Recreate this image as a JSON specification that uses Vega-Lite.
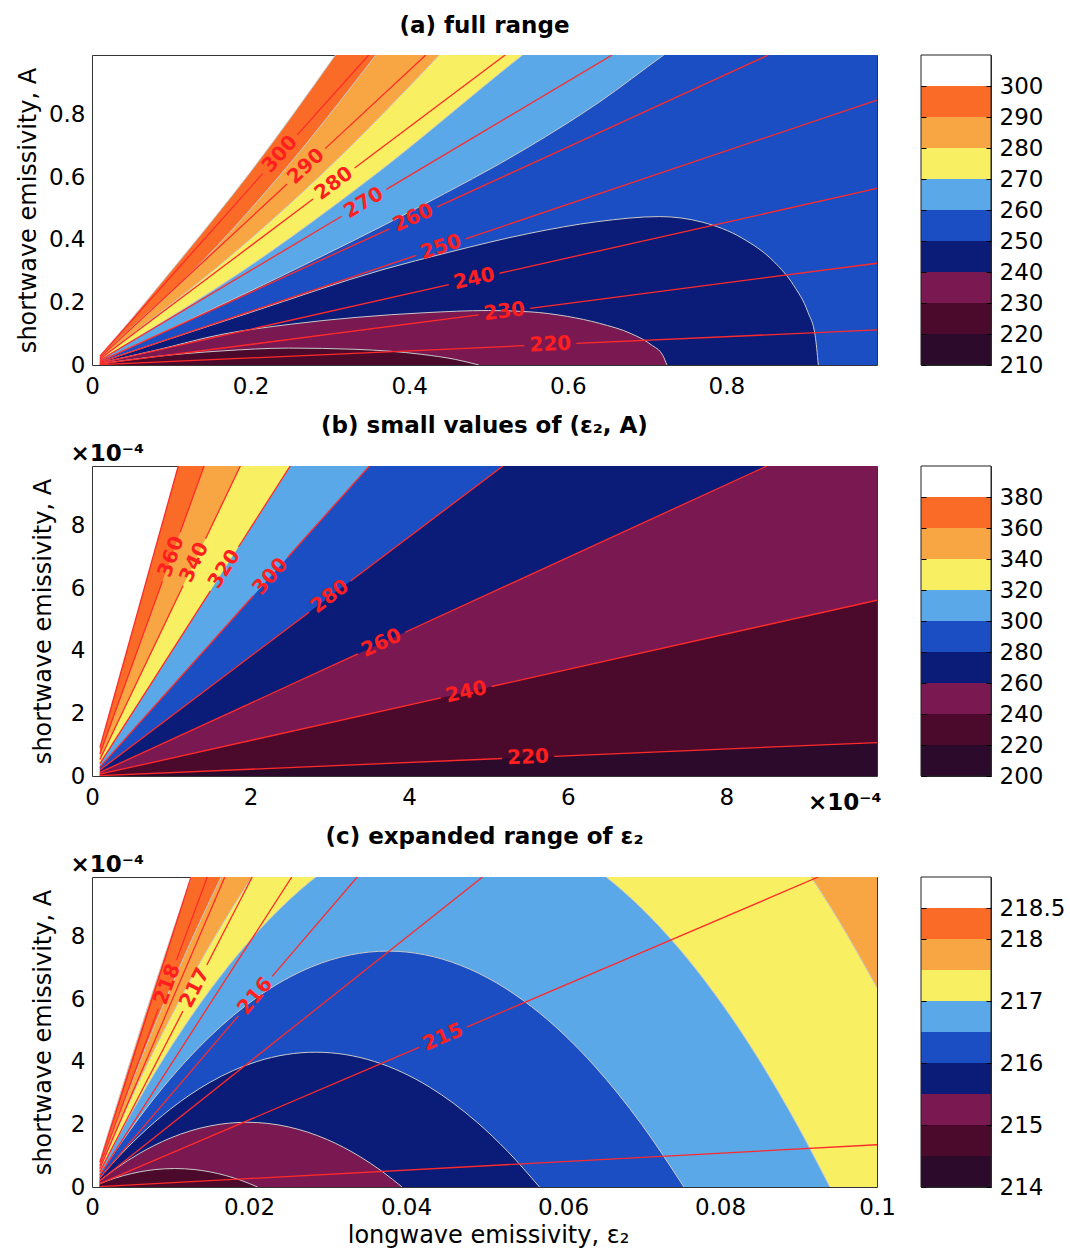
{
  "$schema": "https://vega.github.io/schema/vega-lite/v6.json",
  "background": "white",
  "padding": {"left": 15, "top": 14, "right": 5, "bottom": 5},
  "bounds": "flush",
  "columns": 2,
  "spacing": {"row": 101, "column": 44},
  "config": {
    "font": "DejaVu Sans",
    "view": {"stroke": "#333333", "strokeWidth": 1},
    "axis": {"ticks": false, "domain": false, "grid": false, "labelFontSize": 23, "labelColor": "#000000", "labelFont": "DejaVu Sans", "titleFont": "DejaVu Sans", "titleFontSize": 24, "titleFontWeight": "normal", "titleColor": "#000000", "labelFlush": false, "labelOverlap": false},
    "title": {"font": "DejaVu Sans", "fontSize": 23, "fontWeight": "bold", "color": "#000000"}
  },
  "datasets": {
    "fillA": [
      {"level":300,"band":8,"x":0.01,"y":0.029},{"level":300,"band":8,"x":0.05,"y":0.148},{"level":300,"band":8,"x":0.101,"y":0.304},{"level":300,"band":8,"x":0.2,"y":0.617},{"level":300,"band":8,"x":0.307,"y":0.99},{"level":300,"band":8,"x":0.4,"y":1.33},{"level":300,"band":8,"x":0.99,"y":3.5},
      {"level":290,"band":7,"x":0.01,"y":0.024},{"level":290,"band":7,"x":0.05,"y":0.12},{"level":290,"band":7,"x":0.1286,"y":0.304},{"level":290,"band":7,"x":0.235,"y":0.6},{"level":290,"band":7,"x":0.358,"y":0.99},{"level":290,"band":7,"x":0.45,"y":1.3},{"level":290,"band":7,"x":0.99,"y":3.2},
      {"level":280,"band":6,"x":0.01,"y":0.019},{"level":280,"band":6,"x":0.05,"y":0.097},{"level":280,"band":6,"x":0.154,"y":0.304},{"level":280,"band":6,"x":0.286,"y":0.6},{"level":280,"band":6,"x":0.438,"y":0.99},{"level":280,"band":6,"x":0.55,"y":1.3},{"level":280,"band":6,"x":0.99,"y":2.6},
      {"level":270,"band":5,"x":0.01,"y":0.015},{"level":270,"band":5,"x":0.05,"y":0.077},{"level":270,"band":5,"x":0.192,"y":0.304},{"level":270,"band":5,"x":0.353,"y":0.6},{"level":270,"band":5,"x":0.543,"y":0.99},{"level":270,"band":5,"x":0.65,"y":1.2},{"level":270,"band":5,"x":0.99,"y":2.0},
      {"level":260,"band":4,"x":0.01,"y":0.0115},{"level":260,"band":4,"x":0.05,"y":0.058},{"level":260,"band":4,"x":0.1,"y":0.117},{"level":260,"band":4,"x":0.255,"y":0.304},{"level":260,"band":4,"x":0.409,"y":0.5},{"level":260,"band":4,"x":0.551,"y":0.697},{"level":260,"band":4,"x":0.64,"y":0.84},{"level":260,"band":4,"x":0.721,"y":0.99},{"level":260,"band":4,"x":0.8,"y":1.13},{"level":260,"band":4,"x":0.99,"y":1.5},
      {"level":250,"band":3,"x":0.01,"y":0.0085},{"level":250,"band":3,"x":0.05,"y":0.043},{"level":250,"band":3,"x":0.1,"y":0.085},{"level":250,"band":3,"x":0.2,"y":0.168},{"level":250,"band":3,"x":0.366,"y":0.304},{"level":250,"band":3,"x":0.45,"y":0.36},{"level":250,"band":3,"x":0.551,"y":0.42},{"level":250,"band":3,"x":0.638,"y":0.458},{"level":250,"band":3,"x":0.716,"y":0.474},{"level":250,"band":3,"x":0.77,"y":0.456},{"level":250,"band":3,"x":0.82,"y":0.405},{"level":250,"band":3,"x":0.86,"y":0.33},{"level":250,"band":3,"x":0.885,"y":0.254},{"level":250,"band":3,"x":0.903,"y":0.168},{"level":250,"band":3,"x":0.912,"y":0.094},{"level":250,"band":3,"x":0.916,"y":0},
      {"level":240,"band":2,"x":0.01,"y":0.006},{"level":240,"band":2,"x":0.04,"y":0.024},{"level":240,"band":2,"x":0.08,"y":0.047},{"level":240,"band":2,"x":0.164,"y":0.098},{"level":240,"band":2,"x":0.25,"y":0.13},{"level":240,"band":2,"x":0.333,"y":0.152},{"level":240,"band":2,"x":0.42,"y":0.167},{"level":240,"band":2,"x":0.5,"y":0.174},{"level":240,"band":2,"x":0.551,"y":0.17},{"level":240,"band":2,"x":0.6,"y":0.155},{"level":240,"band":2,"x":0.64,"y":0.133},{"level":240,"band":2,"x":0.68,"y":0.1},{"level":240,"band":2,"x":0.705,"y":0.065},{"level":240,"band":2,"x":0.72,"y":0.03},{"level":240,"band":2,"x":0.725,"y":0},
      {"level":230,"band":1,"x":0.01,"y":0.0035},{"level":230,"band":1,"x":0.04,"y":0.014},{"level":230,"band":1,"x":0.08,"y":0.027},{"level":230,"band":1,"x":0.164,"y":0.045},{"level":230,"band":1,"x":0.248,"y":0.054},{"level":230,"band":1,"x":0.333,"y":0.05},{"level":230,"band":1,"x":0.416,"y":0.034},{"level":230,"band":1,"x":0.458,"y":0.018},{"level":230,"band":1,"x":0.488,"y":0}
    ],
    "linesA": [
      {"level":300,"seg":0,"x":0.01,"y":0.0284},{"level":300,"seg":0,"x":0.2152,"y":0.611},{"level":300,"seg":1,"x":0.2588,"y":0.735},{"level":300,"seg":1,"x":0.349,"y":0.99},
      {"level":290,"seg":0,"x":0.01,"y":0.0235},{"level":290,"seg":0,"x":0.246,"y":0.578},{"level":290,"seg":1,"x":0.294,"y":0.691},{"level":290,"seg":1,"x":0.421,"y":0.99},
      {"level":280,"seg":0,"x":0.01,"y":0.019},{"level":280,"seg":0,"x":0.2788,"y":0.53},{"level":280,"seg":1,"x":0.3312,"y":0.629},{"level":280,"seg":1,"x":0.521,"y":0.99},
      {"level":270,"seg":0,"x":0.01,"y":0.0151},{"level":270,"seg":0,"x":0.3148,"y":0.475},{"level":270,"seg":1,"x":0.3712,"y":0.561},{"level":270,"seg":1,"x":0.656,"y":0.99},
      {"level":260,"seg":0,"x":0.01,"y":0.0116},{"level":260,"seg":0,"x":0.3752,"y":0.435},{"level":260,"seg":1,"x":0.4348,"y":0.504},{"level":260,"seg":1,"x":0.853,"y":0.99},
      {"level":250,"seg":0,"x":0.01,"y":0.0086},{"level":250,"seg":0,"x":0.4089,"y":0.35},{"level":250,"seg":1,"x":0.4711,"y":0.403},{"level":250,"seg":1,"x":0.99,"y":0.846},
      {"level":240,"seg":0,"x":0.01,"y":0.0057},{"level":240,"seg":0,"x":0.45,"y":0.2565},{"level":240,"seg":1,"x":0.514,"y":0.293},{"level":240,"seg":1,"x":0.99,"y":0.564},
      {"level":230,"seg":0,"x":0.01,"y":0.0033},{"level":230,"seg":0,"x":0.4875,"y":0.16},{"level":230,"seg":1,"x":0.5525,"y":0.181},{"level":230,"seg":1,"x":0.99,"y":0.325},
      {"level":220,"seg":0,"x":0.01,"y":0.0011},{"level":220,"seg":0,"x":0.5452,"y":0.0616},{"level":220,"seg":1,"x":0.6108,"y":0.069},{"level":220,"seg":1,"x":0.99,"y":0.112}
    ],
    "labA": [
      {"level":300,"x":0.237,"y":0.673},{"level":290,"x":0.27,"y":0.6345},{"level":280,"x":0.305,"y":0.5795},{"level":270,"x":0.343,"y":0.518},{"level":260,"x":0.405,"y":0.47},{"level":250,"x":0.44,"y":0.376},{"level":240,"x":0.482,"y":0.275},{"level":230,"x":0.52,"y":0.1706},{"level":220,"x":0.578,"y":0.0653}
    ],
    "fillB": [
      {"level":380,"band":8,"x":0.1,"y":0.91},{"level":380,"band":8,"x":9.9,"y":90.09},
      {"level":360,"band":7,"x":0.1,"y":0.7},{"level":360,"band":7,"x":9.9,"y":69.3},
      {"level":340,"band":6,"x":0.1,"y":0.529},{"level":340,"band":6,"x":9.9,"y":52.37},
      {"level":320,"band":5,"x":0.1,"y":0.396},{"level":320,"band":5,"x":9.9,"y":39.2},
      {"level":300,"band":4,"x":0.1,"y":0.283},{"level":300,"band":4,"x":9.9,"y":28.02},
      {"level":280,"band":3,"x":0.1,"y":0.191},{"level":280,"band":3,"x":9.9,"y":18.91},
      {"level":260,"band":2,"x":0.1,"y":0.116},{"level":260,"band":2,"x":9.9,"y":11.51},
      {"level":240,"band":1,"x":0.1,"y":0.057},{"level":240,"band":1,"x":9.9,"y":5.613},
      {"level":220,"band":0,"x":0.1,"y":0.011},{"level":220,"band":0,"x":9.9,"y":1.069}
    ],
    "linesB": [
      {"level":380,"seg":0,"x":0.1,"y":0.91},{"level":380,"seg":0,"x":1.088,"y":9.9},
      {"level":360,"seg":0,"x":0.1,"y":0.7},{"level":360,"seg":0,"x":0.888,"y":6.216},{"level":360,"seg":1,"x":1.112,"y":7.784},{"level":360,"seg":1,"x":1.414,"y":9.9},
      {"level":340,"seg":0,"x":0.1,"y":0.529},{"level":340,"seg":0,"x":1.148,"y":6.073},{"level":340,"seg":1,"x":1.432,"y":7.575},{"level":340,"seg":1,"x":1.871,"y":9.9},
      {"level":320,"seg":0,"x":0.1,"y":0.396},{"level":320,"seg":0,"x":1.493,"y":5.912},{"level":320,"seg":1,"x":1.847,"y":7.314},{"level":320,"seg":1,"x":2.5,"y":9.9},
      {"level":300,"seg":0,"x":0.1,"y":0.283},{"level":300,"seg":0,"x":2.031,"y":5.748},{"level":300,"seg":1,"x":2.469,"y":6.987},{"level":300,"seg":1,"x":3.498,"y":9.9},
      {"level":280,"seg":0,"x":0.1,"y":0.191},{"level":280,"seg":0,"x":2.738,"y":5.23},{"level":280,"seg":1,"x":3.262,"y":6.23},{"level":280,"seg":1,"x":5.183,"y":9.9},
      {"level":260,"seg":0,"x":0.1,"y":0.116},{"level":260,"seg":0,"x":3.352,"y":3.898},{"level":260,"seg":1,"x":3.948,"y":4.591},{"level":260,"seg":1,"x":8.512,"y":9.9},
      {"level":240,"seg":0,"x":0.1,"y":0.057},{"level":240,"seg":0,"x":4.4,"y":2.495},{"level":240,"seg":1,"x":5.04,"y":2.858},{"level":240,"seg":1,"x":9.9,"y":5.613},
      {"level":220,"seg":0,"x":0.1,"y":0.011},{"level":220,"seg":0,"x":5.172,"y":0.5586},{"level":220,"seg":1,"x":5.828,"y":0.6294},{"level":220,"seg":1,"x":9.9,"y":1.069}
    ],
    "labB": [
      {"level":360,"x":1.0,"y":7.0},{"level":340,"x":1.29,"y":6.82},{"level":320,"x":1.67,"y":6.61},{"level":300,"x":2.25,"y":6.37},{"level":280,"x":3.0,"y":5.73},{"level":260,"x":3.65,"y":4.245},{"level":240,"x":4.72,"y":2.676},{"level":220,"x":5.5,"y":0.594}
    ],
    "fillC": [
      {"level":218.5,"band":8,"x":0.001,"y":0.843},{"level":218.5,"band":8,"x":0.003,"y":2.496},{"level":218.5,"band":8,"x":0.006,"y":4.897},{"level":218.5,"band":8,"x":0.009,"y":7.203},{"level":218.5,"band":8,"x":0.012,"y":9.413},{"level":218.5,"band":8,"x":0.015,"y":11.53},{"level":218.5,"band":8,"x":0.03,"y":20.67},{"level":218.5,"band":8,"x":0.1,"y":31.8},
      {"level":218,"band":7,"x":0.001,"y":0.684},{"level":218,"band":7,"x":0.003,"y":2.019},{"level":218,"band":7,"x":0.006,"y":3.943},{"level":218,"band":7,"x":0.01,"y":6.36},{"level":218,"band":7,"x":0.014,"y":8.607},{"level":218,"band":7,"x":0.018,"y":10.68},{"level":218,"band":7,"x":0.03,"y":15.9},{"level":218,"band":7,"x":0.065,"y":22.4},{"level":218,"band":7,"x":0.1,"y":15.9},
      {"level":217.5,"band":6,"x":0.001,"y":0.588},{"level":217.5,"band":6,"x":0.003,"y":1.733},{"level":217.5,"band":6,"x":0.006,"y":3.371},{"level":217.5,"band":6,"x":0.01,"y":5.406},{"level":217.5,"band":6,"x":0.015,"y":7.712},{"level":217.5,"band":6,"x":0.02,"y":9.752},{"level":217.5,"band":6,"x":0.025,"y":11.53},{"level":217.5,"band":6,"x":0.056,"y":16.62},{"level":217.5,"band":6,"x":0.085,"y":12.16},{"level":217.5,"band":6,"x":0.09,"y":10.49},{"level":217.5,"band":6,"x":0.095,"y":8.56},{"level":217.5,"band":6,"x":0.1,"y":6.36},
      {"level":217,"band":5,"x":0.001,"y":0.493},{"level":217,"band":5,"x":0.003,"y":1.447},{"level":217,"band":5,"x":0.006,"y":2.798},{"level":217,"band":5,"x":0.01,"y":4.452},{"level":217,"band":5,"x":0.015,"y":6.281},{"level":217,"band":5,"x":0.02,"y":7.844},{"level":217,"band":5,"x":0.025,"y":9.143},{"level":217,"band":5,"x":0.03,"y":10.18},{"level":217,"band":5,"x":0.047,"y":11.71},{"level":217,"band":5,"x":0.064,"y":10.18},{"level":217,"band":5,"x":0.07,"y":8.904},{"level":217,"band":5,"x":0.078,"y":6.614},{"level":217,"band":5,"x":0.085,"y":4.055},{"level":217,"band":5,"x":0.09,"y":1.908},{"level":217,"band":5,"x":0.094,"y":0},
      {"level":216.5,"band":4,"x":0.001,"y":0.394},{"level":216.5,"band":4,"x":0.003,"y":1.151},{"level":216.5,"band":4,"x":0.006,"y":2.207},{"level":216.5,"band":4,"x":0.01,"y":3.466},{"level":216.5,"band":4,"x":0.015,"y":4.802},{"level":216.5,"band":4,"x":0.021,"y":6.055},{"level":216.5,"band":4,"x":0.028,"y":7.034},{"level":216.5,"band":4,"x":0.0377,"y":7.533},{"level":216.5,"band":4,"x":0.047,"y":7.074},{"level":216.5,"band":4,"x":0.056,"y":5.758},{"level":216.5,"band":4,"x":0.064,"y":3.867},{"level":216.5,"band":4,"x":0.07,"y":2.003},{"level":216.5,"band":4,"x":0.0754,"y":0},
      {"level":216,"band":3,"x":0.001,"y":0.297},{"level":216,"band":3,"x":0.003,"y":0.859},{"level":216,"band":3,"x":0.006,"y":1.622},{"level":216,"band":3,"x":0.01,"y":2.491},{"level":216,"band":3,"x":0.015,"y":3.339},{"level":216,"band":3,"x":0.021,"y":4.007},{"level":216,"band":3,"x":0.0285,"y":4.305},{"level":216,"band":3,"x":0.036,"y":4.007},{"level":216,"band":3,"x":0.043,"y":3.191},{"level":216,"band":3,"x":0.049,"y":2.078},{"level":216,"band":3,"x":0.053,"y":1.124},{"level":216,"band":3,"x":0.057,"y":0},
      {"level":215.5,"band":2,"x":0.001,"y":0.204},{"level":215.5,"band":2,"x":0.003,"y":0.58},{"level":215.5,"band":2,"x":0.006,"y":1.065},{"level":215.5,"band":2,"x":0.01,"y":1.564},{"level":215.5,"band":2,"x":0.015,"y":1.948},{"level":215.5,"band":2,"x":0.0198,"y":2.067},{"level":215.5,"band":2,"x":0.025,"y":1.921},{"level":215.5,"band":2,"x":0.03,"y":1.511},{"level":215.5,"band":2,"x":0.034,"y":0.991},{"level":215.5,"band":2,"x":0.037,"y":0.49},{"level":215.5,"band":2,"x":0.0395,"y":0},
      {"level":215,"band":1,"x":0.001,"y":0.107},{"level":215,"band":1,"x":0.002,"y":0.203},{"level":215,"band":1,"x":0.004,"y":0.363},{"level":215,"band":1,"x":0.006,"y":0.48},{"level":215,"band":1,"x":0.008,"y":0.555},{"level":215,"band":1,"x":0.0105,"y":0.59},{"level":215,"band":1,"x":0.013,"y":0.558},{"level":215,"band":1,"x":0.015,"y":0.485},{"level":215,"band":1,"x":0.017,"y":0.369},{"level":215,"band":1,"x":0.019,"y":0.212},{"level":215,"band":1,"x":0.0211,"y":0}
    ],
    "linesC": [
      {"level":214.5,"seg":0,"x":0.001,"y":0.0135},{"level":214.5,"seg":0,"x":0.1,"y":1.35},
      {"level":215,"seg":0,"x":0.001,"y":0.107},{"level":215,"seg":0,"x":0.04166,"y":4.458},{"level":215,"seg":1,"x":0.04774,"y":5.108},{"level":215,"seg":1,"x":0.09252,"y":9.9},
      {"level":215.5,"seg":0,"x":0.001,"y":0.199},{"level":215.5,"seg":0,"x":0.04975,"y":9.9},
      {"level":216,"seg":0,"x":0.001,"y":0.293},{"level":216,"seg":0,"x":0.01865,"y":5.464},{"level":216,"seg":1,"x":0.02295,"y":6.724},{"level":216,"seg":1,"x":0.03379,"y":9.9},
      {"level":216.5,"seg":0,"x":0.001,"y":0.389},{"level":216.5,"seg":0,"x":0.02545,"y":9.9},
      {"level":217,"seg":0,"x":0.001,"y":0.485},{"level":217,"seg":0,"x":0.01158,"y":5.616},{"level":217,"seg":1,"x":0.01462,"y":7.091},{"level":217,"seg":1,"x":0.02041,"y":9.9},
      {"level":217.5,"seg":0,"x":0.001,"y":0.585},{"level":217.5,"seg":0,"x":0.01692,"y":9.9},
      {"level":218,"seg":0,"x":0.001,"y":0.674},{"level":218,"seg":0,"x":0.00845,"y":5.695},{"level":218,"seg":1,"x":0.01075,"y":7.246},{"level":218,"seg":1,"x":0.01469,"y":9.9},
      {"level":218.5,"seg":0,"x":0.001,"y":0.785},{"level":218.5,"seg":0,"x":0.01261,"y":9.9}
    ],
    "labC": [
      {"level":218,"x":0.0096,"y":6.47},{"level":217,"x":0.0131,"y":6.354},{"level":216,"x":0.0208,"y":6.094},{"level":215,"x":0.0447,"y":4.783}
    ],
    "barA": [
      {"band":0,"lo":210,"hi":220},{"band":1,"lo":220,"hi":230},{"band":2,"lo":230,"hi":240},{"band":3,"lo":240,"hi":250},{"band":4,"lo":250,"hi":260},{"band":5,"lo":260,"hi":270},{"band":6,"lo":270,"hi":280},{"band":7,"lo":280,"hi":290},{"band":8,"lo":290,"hi":300},{"band":9,"lo":300,"hi":310}
    ],
    "barB": [
      {"band":0,"lo":200,"hi":220},{"band":1,"lo":220,"hi":240},{"band":2,"lo":240,"hi":260},{"band":3,"lo":260,"hi":280},{"band":4,"lo":280,"hi":300},{"band":5,"lo":300,"hi":320},{"band":6,"lo":320,"hi":340},{"band":7,"lo":340,"hi":360},{"band":8,"lo":360,"hi":380},{"band":9,"lo":380,"hi":400}
    ],
    "barC": [
      {"band":0,"lo":214,"hi":214.5},{"band":1,"lo":214.5,"hi":215},{"band":2,"lo":215,"hi":215.5},{"band":3,"lo":215.5,"hi":216},{"band":4,"lo":216,"hi":216.5},{"band":5,"lo":216.5,"hi":217},{"band":6,"lo":217,"hi":217.5},{"band":7,"lo":217.5,"hi":218},{"band":8,"lo":218,"hi":218.5},{"band":9,"lo":218.5,"hi":219}
    ]
  },
  "concat": [
    {
      "width": 785,
      "height": 310,
      "title": {"text": "(a) full range", "anchor": "middle", "frame": "group", "offset": -1, "baseline": "alphabetic"},
      "encoding": {
        "x": {"field": "x", "type": "quantitative", "scale": {"domain": [0, 0.99], "nice": false, "zero": false}, "axis": {"values": [0, 0.2, 0.4, 0.6, 0.8], "format": "~g", "title": null, "labelPadding": 10}},
        "y": {"field": "y", "type": "quantitative", "stack": null, "scale": {"domain": [0, 0.99], "nice": false, "zero": false}, "axis": {"values": [0, 0.2, 0.4, 0.6, 0.8], "format": "~g", "labelPadding": 7, "title": "shortwave emissivity, A", "titleAngle": 270, "titleX": -57, "titleY": 155, "titleAlign": "center", "titleBaseline": "alphabetic"}}
      },
      "layer": [
        {
          "data": {"name": "fillA"},
          "mark": {"type": "area", "clip": true, "interpolate": "monotone"},
          "encoding": {
            "y2": {"datum": 0},
            "color": {"field": "band", "type": "ordinal", "scale": {"domain": [0,1,2,3,4,5,6,7,8,9], "range": ["#2c0a2c","#4b0a2c","#7a1852","#0b1c78","#1a4ec2","#5aa8e8","#f8ef62","#f8a643","#fa6b28","#ffffff"]}, "legend": null}
          }
        },
        {
          "data": {"name": "fillA"},
          "mark": {"type": "line", "clip": true, "interpolate": "monotone", "stroke": "#c9c9c9", "strokeWidth": 1},
          "encoding": {"detail": {"field": "level"}}
        },
        {
          "data": {"name": "linesA"},
          "mark": {"type": "line", "clip": true, "stroke": "#ff2a2a", "strokeWidth": 1.3},
          "encoding": {"detail": [{"field": "level"}, {"field": "seg"}]}
        },
        {
          "data": {"name": "labA"},
          "transform": [{"calculate": "-atan(datum.y / datum.x * 313.1 / 792.9) * 180 / PI", "as": "ang"}],
          "mark": {"type": "text", "color": "#ff1f1f", "fontSize": 20, "fontWeight": "bold", "font": "DejaVu Sans"},
          "encoding": {"text": {"field": "level", "type": "nominal"}, "angle": {"field": "ang", "type": "quantitative", "scale": null}}
        },
        {
          "data": {"values": [{}]},
          "mark": {"type": "rect", "fillOpacity": 0, "stroke": "#333333", "strokeWidth": 1},
          "encoding": {"x": {"datum": 0, "type": "quantitative"}, "x2": {"datum": 0.99}, "y": {"datum": 0, "type": "quantitative"}, "y2": {"datum": 0.99}}
        }
      ]
    },
    {
      "width": 70,
      "height": 310,
      "resolve": {"axis": {"y": "independent"}},
      "encoding": {
        "x": {"datum": 0, "type": "quantitative", "scale": {"domain": [0, 1]}, "axis": null},
        "x2": {"datum": 1}
      },
      "layer": [
        {
          "data": {"name": "barA"},
          "mark": {"type": "rect"},
          "encoding": {
            "y": {"field": "lo", "type": "quantitative", "scale": {"domain": [210, 310], "nice": false, "zero": false}, "axis": {"orient": "right", "values": [210,220,230,240,250,260,270,280,290,300], "format": "d", "title": null, "labelPadding": 13, "ticks": true, "tickSize": -5, "tickColor": "#000000", "zindex": 1}},
            "y2": {"field": "hi"},
            "color": {"field": "band", "type": "ordinal", "scale": {"domain": [0,1,2,3,4,5,6,7,8,9], "range": ["#2c0a2c","#4b0a2c","#7a1852","#0b1c78","#1a4ec2","#5aa8e8","#f8ef62","#f8a643","#fa6b28","#ffffff"]}, "legend": null}
          }
        },
        {
          "data": {"values": [{}]},
          "mark": {"type": "rect", "fillOpacity": 0, "stroke": "#222222", "strokeWidth": 1},
          "encoding": {"y": {"datum": 210, "type": "quantitative", "axis": {"orient": "left", "values": [210,220,230,240,250,260,270,280,290,300], "labels": false, "title": null, "ticks": true, "tickSize": -5, "tickColor": "#000000", "zindex": 1}}, "y2": {"datum": 310}}
        }
      ]
    },
    {
      "width": 785,
      "height": 310,
      "title": {"text": "(b) small values of (ε₂, A)", "anchor": "middle", "frame": "group", "offset": -14, "baseline": "alphabetic"},
      "resolve": {"axis": {"x": "independent"}},
      "encoding": {
        "y": {"field": "y", "type": "quantitative", "stack": null, "scale": {"domain": [0, 9.9], "nice": false, "zero": false}, "axis": {"values": [0, 2, 4, 6, 8], "format": "~g", "labelPadding": 7, "title": "shortwave emissivity, A", "titleAngle": 270, "titleX": -42, "titleY": 155, "titleAlign": "center", "titleBaseline": "alphabetic"}}
      },
      "layer": [
        {
          "data": {"name": "fillB"},
          "mark": {"type": "area", "clip": true},
          "encoding": {
            "x": {"field": "x", "type": "quantitative", "scale": {"domain": [0, 9.9], "nice": false, "zero": false}, "axis": {"values": [0, 2, 4, 6, 8], "format": "~g", "labelPadding": 10, "title": "×10⁻⁴", "titleX": 789, "titleY": 33, "titleAlign": "right", "titleBaseline": "alphabetic", "titleAngle": 0, "titleFontWeight": "bold", "titleFontSize": 23}},
            "y2": {"datum": 0},
            "color": {"field": "band", "type": "ordinal", "scale": {"domain": [0,1,2,3,4,5,6,7,8,9], "range": ["#2c0a2c","#4b0a2c","#7a1852","#0b1c78","#1a4ec2","#5aa8e8","#f8ef62","#f8a643","#fa6b28","#ffffff"]}, "legend": null}
          }
        },
        {
          "data": {"name": "linesB"},
          "mark": {"type": "line", "clip": true, "stroke": "#ff2a2a", "strokeWidth": 1.3},
          "encoding": {"x": {"field": "x", "type": "quantitative", "axis": null}, "detail": [{"field": "level"}, {"field": "seg"}]}
        },
        {
          "data": {"name": "labB"},
          "transform": [{"calculate": "-atan(datum.y / datum.x * 31.31 / 79.29) * 180 / PI", "as": "ang"}],
          "mark": {"type": "text", "color": "#ff1f1f", "fontSize": 20, "fontWeight": "bold", "font": "DejaVu Sans"},
          "encoding": {
            "x": {"field": "x", "type": "quantitative", "axis": {"orient": "top", "labels": false, "title": "×10⁻⁴", "titleX": -22, "titleY": -6, "titleAlign": "left", "titleBaseline": "alphabetic", "titleAngle": 0, "titleFontWeight": "bold", "titleFontSize": 23}},
            "text": {"field": "level", "type": "nominal"},
            "angle": {"field": "ang", "type": "quantitative", "scale": null}
          }
        },
        {
          "data": {"values": [{}]},
          "mark": {"type": "rect", "fillOpacity": 0, "stroke": "#333333", "strokeWidth": 1},
          "encoding": {"x": {"datum": 0, "type": "quantitative", "axis": null}, "x2": {"datum": 9.9}, "y": {"datum": 0, "type": "quantitative"}, "y2": {"datum": 9.9}}
        }
      ]
    },
    {
      "width": 70,
      "height": 310,
      "resolve": {"axis": {"y": "independent"}},
      "encoding": {
        "x": {"datum": 0, "type": "quantitative", "scale": {"domain": [0, 1]}, "axis": null},
        "x2": {"datum": 1}
      },
      "layer": [
        {
          "data": {"name": "barB"},
          "mark": {"type": "rect"},
          "encoding": {
            "y": {"field": "lo", "type": "quantitative", "scale": {"domain": [200, 400], "nice": false, "zero": false}, "axis": {"orient": "right", "values": [200,220,240,260,280,300,320,340,360,380], "format": "d", "title": null, "labelPadding": 13, "ticks": true, "tickSize": -5, "tickColor": "#000000", "zindex": 1}},
            "y2": {"field": "hi"},
            "color": {"field": "band", "type": "ordinal", "scale": {"domain": [0,1,2,3,4,5,6,7,8,9], "range": ["#2c0a2c","#4b0a2c","#7a1852","#0b1c78","#1a4ec2","#5aa8e8","#f8ef62","#f8a643","#fa6b28","#ffffff"]}, "legend": null}
          }
        },
        {
          "data": {"values": [{}]},
          "mark": {"type": "rect", "fillOpacity": 0, "stroke": "#222222", "strokeWidth": 1},
          "encoding": {"y": {"datum": 200, "type": "quantitative", "axis": {"orient": "left", "values": [200,220,240,260,280,300,320,340,360,380], "labels": false, "title": null, "ticks": true, "tickSize": -5, "tickColor": "#000000", "zindex": 1}}, "y2": {"datum": 400}}
        }
      ]
    },
    {
      "width": 785,
      "height": 310,
      "title": {"text": "(c) expanded range of ε₂", "anchor": "middle", "frame": "group", "offset": -14, "baseline": "alphabetic"},
      "resolve": {"axis": {"x": "independent"}},
      "encoding": {
        "y": {"field": "y", "type": "quantitative", "stack": null, "scale": {"domain": [0, 9.9], "nice": false, "zero": false}, "axis": {"values": [0, 2, 4, 6, 8], "format": "~g", "labelPadding": 7, "title": "shortwave emissivity, A", "titleAngle": 270, "titleX": -42, "titleY": 155, "titleAlign": "center", "titleBaseline": "alphabetic"}}
      },
      "layer": [
        {
          "data": {"name": "fillC"},
          "mark": {"type": "area", "clip": true, "interpolate": "monotone"},
          "encoding": {
            "x": {"field": "x", "type": "quantitative", "scale": {"domain": [0, 0.1], "nice": false, "zero": false}, "axis": {"values": [0, 0.02, 0.04, 0.06, 0.08, 0.1], "format": "~g", "labelPadding": 9, "title": "longwave emissivity, ε₂", "titleX": 396, "titleY": 55, "titleAlign": "center", "titleBaseline": "alphabetic", "titleAngle": 0}},
            "y2": {"datum": 0},
            "color": {"field": "band", "type": "ordinal", "scale": {"domain": [0,1,2,3,4,5,6,7,8,9], "range": ["#2c0a2c","#4b0a2c","#7a1852","#0b1c78","#1a4ec2","#5aa8e8","#f8ef62","#f8a643","#fa6b28","#ffffff"]}, "legend": null}
          }
        },
        {
          "data": {"name": "fillC"},
          "mark": {"type": "line", "clip": true, "interpolate": "monotone", "stroke": "#c9c9c9", "strokeWidth": 1},
          "encoding": {"x": {"field": "x", "type": "quantitative", "axis": null}, "detail": {"field": "level"}}
        },
        {
          "data": {"name": "linesC"},
          "mark": {"type": "line", "clip": true, "stroke": "#ff2a2a", "strokeWidth": 1.3},
          "encoding": {"x": {"field": "x", "type": "quantitative", "axis": null}, "detail": [{"field": "level"}, {"field": "seg"}]}
        },
        {
          "data": {"name": "labC"},
          "transform": [{"calculate": "-atan(datum.y / datum.x * 31.31 / 7850) * 180 / PI", "as": "ang"}],
          "mark": {"type": "text", "color": "#ff1f1f", "fontSize": 20, "fontWeight": "bold", "font": "DejaVu Sans"},
          "encoding": {
            "x": {"field": "x", "type": "quantitative", "axis": {"orient": "top", "labels": false, "title": "×10⁻⁴", "titleX": -22, "titleY": -6, "titleAlign": "left", "titleBaseline": "alphabetic", "titleAngle": 0, "titleFontWeight": "bold", "titleFontSize": 23}},
            "text": {"field": "level", "type": "nominal"},
            "angle": {"field": "ang", "type": "quantitative", "scale": null}
          }
        },
        {
          "data": {"values": [{}]},
          "mark": {"type": "rect", "fillOpacity": 0, "stroke": "#333333", "strokeWidth": 1},
          "encoding": {"x": {"datum": 0, "type": "quantitative", "axis": null}, "x2": {"datum": 0.1}, "y": {"datum": 0, "type": "quantitative"}, "y2": {"datum": 9.9}}
        }
      ]
    },
    {
      "width": 70,
      "height": 310,
      "resolve": {"axis": {"y": "independent"}},
      "encoding": {
        "x": {"datum": 0, "type": "quantitative", "scale": {"domain": [0, 1]}, "axis": null},
        "x2": {"datum": 1}
      },
      "layer": [
        {
          "data": {"name": "barC"},
          "mark": {"type": "rect"},
          "encoding": {
            "y": {"field": "lo", "type": "quantitative", "scale": {"domain": [214, 219], "nice": false, "zero": false}, "axis": {"orient": "right", "values": [214, 215, 216, 217, 218, 218.5], "format": ".1~f", "title": null, "labelPadding": 13, "ticks": true, "tickSize": -5, "tickColor": "#000000", "zindex": 1}},
            "y2": {"field": "hi"},
            "color": {"field": "band", "type": "ordinal", "scale": {"domain": [0,1,2,3,4,5,6,7,8,9], "range": ["#2c0a2c","#4b0a2c","#7a1852","#0b1c78","#1a4ec2","#5aa8e8","#f8ef62","#f8a643","#fa6b28","#ffffff"]}, "legend": null}
          }
        },
        {
          "data": {"values": [{}]},
          "mark": {"type": "rect", "fillOpacity": 0, "stroke": "#222222", "strokeWidth": 1},
          "encoding": {"y": {"datum": 214, "type": "quantitative", "axis": {"orient": "left", "values": [214, 215, 216, 217, 218, 218.5], "labels": false, "title": null, "ticks": true, "tickSize": -5, "tickColor": "#000000", "zindex": 1}}, "y2": {"datum": 219}}
        }
      ]
    }
  ]
}
